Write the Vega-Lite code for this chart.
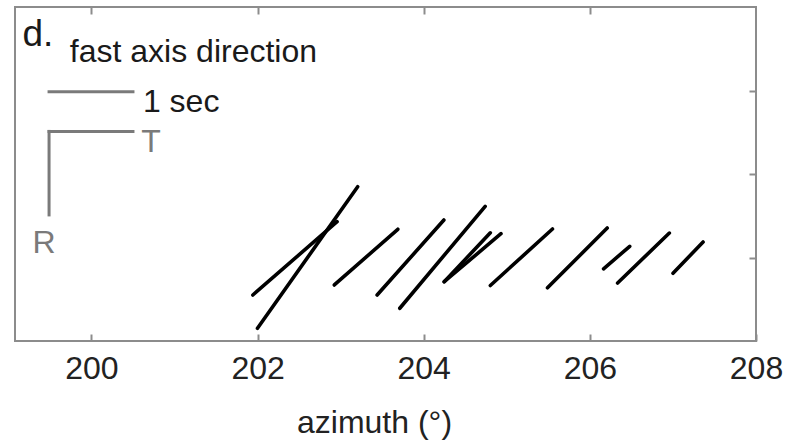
{
  "$schema": "https://vega.github.io/schema/vega-lite/v6.json",
  "width": 741,
  "height": 334,
  "autosize": {"type": "none"},
  "padding": {"left": 15, "top": 7, "right": 48, "bottom": 103},
  "background": "white",
  "config": {
    "font": "Liberation Sans",
    "view": {"stroke": "#8c8c8c", "strokeWidth": 2},
    "axis": {"grid": false, "domain": false, "tickColor": "#8c8c8c", "tickWidth": 2, "tickSize": -7}
  },
  "datasets": {
    "sticks": [
      {"az1": 201.999, "r1": 0.152, "az2": 203.205, "r2": 1.848},
      {"az1": 201.943, "r1": 0.551, "az2": 202.957, "r2": 1.429},
      {"az1": 202.924, "r1": 0.671, "az2": 203.688, "r2": 1.338},
      {"az1": 203.439, "r1": 0.551, "az2": 204.243, "r2": 1.449},
      {"az1": 203.712, "r1": 0.392, "az2": 204.740, "r2": 1.613},
      {"az1": 204.247, "r1": 0.710, "az2": 204.802, "r2": 1.296},
      {"az1": 204.247, "r1": 0.710, "az2": 204.930, "r2": 1.285},
      {"az1": 204.802, "r1": 0.665, "az2": 205.550, "r2": 1.341},
      {"az1": 205.490, "r1": 0.637, "az2": 206.209, "r2": 1.353},
      {"az1": 206.165, "r1": 0.865, "az2": 206.480, "r2": 1.134},
      {"az1": 206.334, "r1": 0.695, "az2": 206.957, "r2": 1.293},
      {"az1": 207.001, "r1": 0.811, "az2": 207.363, "r2": 1.186}
    ],
    "key": [
      {"az1": 199.49, "r1": 2.986, "az2": 200.5, "r2": 2.986},
      {"az1": 199.49, "r1": 2.51, "az2": 200.5, "r2": 2.51},
      {"az1": 199.49, "r1": 2.51, "az2": 199.49, "r2": 1.51}
    ]
  },
  "layer": [
    {
      "data": {"name": "sticks"},
      "mark": {"type": "rule", "color": "black", "strokeWidth": 3.6, "strokeCap": "round"},
      "encoding": {
        "x": {
          "field": "az1", "type": "quantitative",
          "scale": {"domain": [199.08, 208], "nice": false, "zero": false},
          "axis": {
            "orient": "bottom", "values": [200, 202, 204, 206, 208],
            "labelFontSize": 32, "labelColor": "#222222", "labelPadding": 19.5,
            "labelFlush": false, "labelOverlap": false,
            "title": "azimuth (°)", "titleFontSize": 32, "titleFontWeight": "normal",
            "titleColor": "#222222", "titleBaseline": "alphabetic", "titleY": 91, "titleX": 359
          }
        },
        "x2": {"field": "az2"},
        "y": {
          "field": "r1", "type": "quantitative",
          "scale": {"domain": [0, 4], "nice": false, "zero": false},
          "axis": {"orient": "right", "values": [1, 2, 3], "labels": false, "title": null}
        },
        "y2": {"field": "r2"}
      }
    },
    {
      "data": {"name": "key"},
      "mark": {"type": "rule", "color": "#7a7a7a", "strokeWidth": 3, "strokeCap": "square"},
      "encoding": {
        "x": {"field": "az1", "type": "quantitative",
          "axis": {"orient": "top", "values": [200, 202, 204, 206], "labels": false, "title": null}},
        "x2": {"field": "az2"},
        "y": {"field": "r1", "type": "quantitative", "axis": null},
        "y2": {"field": "r2"}
      }
    },
    {
      "data": {"values": [{"az": 199.17, "r": 3.53, "label": "d."}]},
      "mark": {"type": "text", "align": "left", "baseline": "alphabetic", "fontSize": 37, "color": "#1a1a1a"},
      "encoding": {
        "x": {"field": "az", "type": "quantitative", "axis": null},
        "y": {"field": "r", "type": "quantitative", "axis": null},
        "text": {"field": "label"}
      }
    },
    {
      "data": {"values": [
        {"az": 199.74, "r": 3.345, "label": "fast axis direction"},
        {"az": 200.62, "r": 2.745, "label": "1 sec"}
      ]},
      "mark": {"type": "text", "align": "left", "baseline": "alphabetic", "fontSize": 32, "color": "#1a1a1a"},
      "encoding": {
        "x": {"field": "az", "type": "quantitative", "axis": null},
        "y": {"field": "r", "type": "quantitative", "axis": null},
        "text": {"field": "label"}
      }
    },
    {
      "data": {"values": [
        {"az": 200.60, "r": 2.267, "label": "T"},
        {"az": 199.29, "r": 1.057, "label": "R"}
      ]},
      "mark": {"type": "text", "align": "left", "baseline": "alphabetic", "fontSize": 32, "color": "#7a7a7a"},
      "encoding": {
        "x": {"field": "az", "type": "quantitative", "axis": null},
        "y": {"field": "r", "type": "quantitative", "axis": null},
        "text": {"field": "label"}
      }
    }
  ],
  "resolve": {"axis": {"x": "independent", "y": "independent"}}
}
